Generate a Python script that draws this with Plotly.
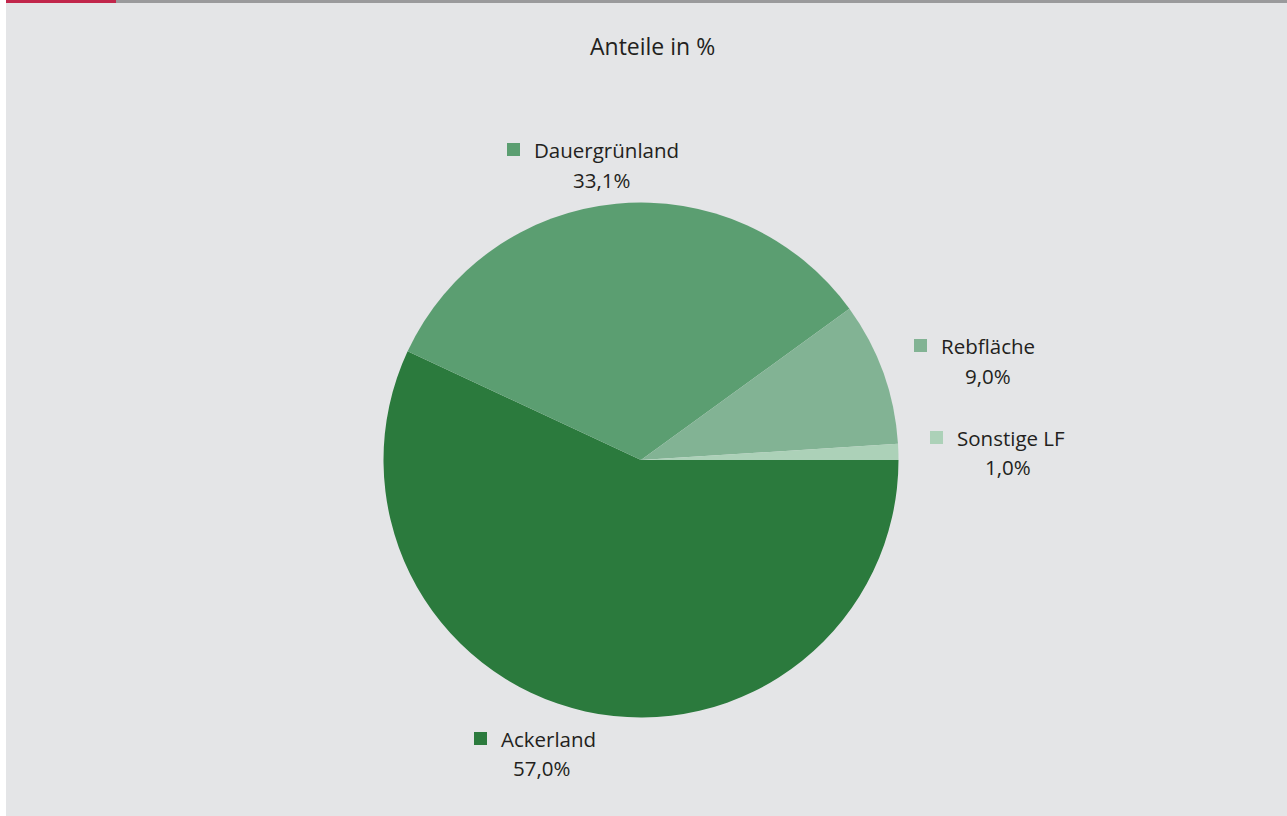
import plotly.graph_objects as go

# Flächenanteile der landwirtschaftlich genutzten Fläche
categories = ["Ackerland", "Dauergrünland", "Rebfläche", "Sonstige LF"]
shares = [57.0, 33.1, 9.0, 1.0]
colors = ["#2b7a3d", "#5b9e71", "#82b394", "#acd1b8"]

W, H = 1287, 816
BG = "#e4e5e7"
TEXT = "#231f20"
FONT = "Open Sans"
LABEL_SIZE = 20.5
TITLE_SIZE = 23


def px(x):
    return x / W


def py(y):
    return 1 - y / H


# pie centre and radius in pixels
cx, cy, r = 641, 460, 257.5

# label layout: square top-left corner, label start, percentage centre
label_pos = {
    "Dauergrünland": dict(sq=(507, 143), lab=(532, 150), pct=(601, 180)),
    "Rebfläche": dict(sq=(914, 339), lab=(939, 346), pct=(988, 376)),
    "Sonstige LF": dict(sq=(930, 431), lab=(955, 438), pct=(1008, 467)),
    "Ackerland": dict(sq=(474, 732), lab=(499, 739), pct=(541, 768)),
}

fig = go.Figure(
    go.Pie(
        labels=categories,
        values=shares,
        sort=False,
        direction="clockwise",
        rotation=90,
        marker=dict(colors=colors, line=dict(width=0)),
        textinfo="none",
        hoverinfo="label+percent",
        showlegend=False,
        domain=dict(x=[px(cx - r), px(cx + r)], y=[py(cy + r), py(cy - r)]),
    )
)

shapes = [
    # white strip on the left edge
    dict(type="rect", xref="paper", yref="paper", x0=0, x1=px(6), y0=0, y1=1,
         fillcolor="white", line=dict(width=0), layer="above"),
    # top rule: red accent then grey
    dict(type="rect", xref="paper", yref="paper", x0=px(6), x1=px(116), y0=py(3), y1=1,
         fillcolor="#c1264b", line=dict(width=0), layer="above"),
    dict(type="rect", xref="paper", yref="paper", x0=px(116), x1=1, y0=py(3), y1=1,
         fillcolor="#9a9a9c", line=dict(width=0), layer="above"),
]

annotations = [
    dict(text="Anteile in %", x=px(652), y=py(46), xref="paper", yref="paper",
         xanchor="center", yanchor="middle", showarrow=False,
         font=dict(family=FONT, size=TITLE_SIZE, color=TEXT)),
]

for name, val, col in zip(categories, shares, colors):
    p = label_pos[name]
    sx, sy = p["sq"]
    shapes.append(dict(type="rect", xref="paper", yref="paper",
                       x0=px(sx), x1=px(sx + 13), y0=py(sy + 13), y1=py(sy),
                       fillcolor=col, line=dict(width=0)))
    annotations.append(dict(text=name, x=px(p["lab"][0]), y=py(p["lab"][1]),
                            xref="paper", yref="paper", xanchor="left", yanchor="middle",
                            showarrow=False, font=dict(family=FONT, size=LABEL_SIZE, color=TEXT)))
    pct_text = f"{val:.1f}".replace(".", ",") + "%"
    annotations.append(dict(text=pct_text, x=px(p["pct"][0]), y=py(p["pct"][1]),
                            xref="paper", yref="paper", xanchor="center", yanchor="middle",
                            showarrow=False, font=dict(family=FONT, size=LABEL_SIZE, color=TEXT)))

fig.update_layout(
    width=W,
    height=H,
    margin=dict(l=0, r=0, t=0, b=0),
    paper_bgcolor=BG,
    plot_bgcolor=BG,
    shapes=shapes,
    annotations=annotations,
)

fig.write_html("out.html")
